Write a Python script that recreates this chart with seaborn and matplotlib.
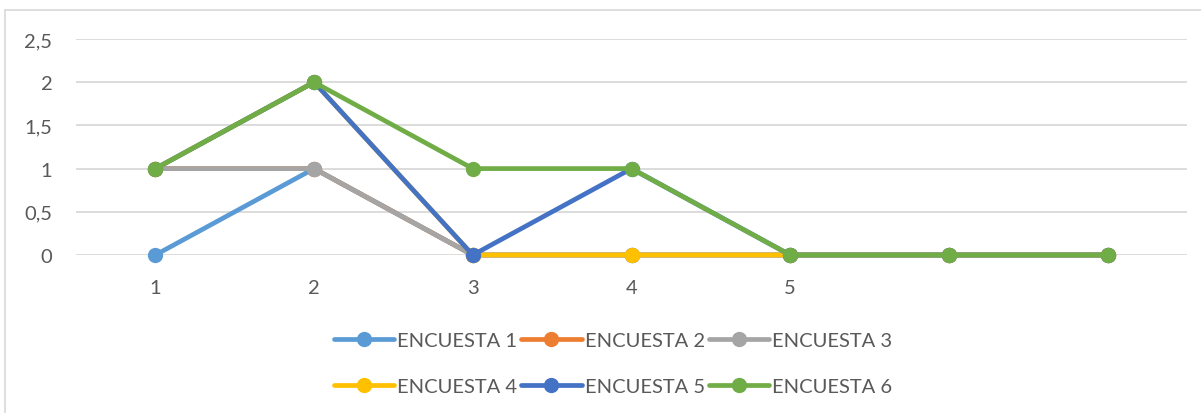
import matplotlib
matplotlib.use("Agg")
import matplotlib.pyplot as plt
from matplotlib.lines import Line2D
from matplotlib.ticker import FuncFormatter
import numpy as np
import pandas as pd
import seaborn as sns

# Categories on the horizontal axis (the last two have no label)
categories = [1, 2, 3, 4, 5, 6, 7]
tick_labels = ["1", "2", "3", "4", "5", "", ""]

encuesta_1 = [0, 1, 0, 0, 0, 0, 0]
encuesta_2 = [1, 1, 0, 0, 0, 0, 0]
encuesta_3 = [1, 1, 0, 0, 0, 0, 0]
encuesta_4 = [1, 2, 0, 0, 0, 0, 0]
encuesta_5 = [1, 2, 0, 1, 0, 0, 0]
encuesta_6 = [1, 2, 1, 1, 0, 0, 0]

series_names = ["ENCUESTA 1", "ENCUESTA 2", "ENCUESTA 3",
                "ENCUESTA 4", "ENCUESTA 5", "ENCUESTA 6"]
series_values = [encuesta_1, encuesta_2, encuesta_3,
                 encuesta_4, encuesta_5, encuesta_6]
palette = ["#5B9BD5", "#ED7D31", "#A5A5A5", "#FFC000", "#4472C4", "#70AD47"]

df = pd.DataFrame({
    "x": np.tile(categories, len(series_names)),
    "valor": np.concatenate(series_values),
    "serie": np.repeat(series_names, len(categories)),
})

sns.set_theme(style="white")
plt.rcParams["font.family"] = ["Lato", "DejaVu Sans"]
text_color = "#595959"
grid_color = "#D9D9D9"
font_size = 14.5
line_w = 3.4
marker_s = 11

W, H = 1201, 414
fig = plt.figure(figsize=(W / 100, H / 100), dpi=100)
ax = fig.add_axes([76 / W, 1 - 256 / H, (1187 - 76) / W, (256 - 40) / H])

sns.lineplot(data=df, x="x", y="valor", hue="serie", hue_order=series_names,
             palette=palette, marker="o", markersize=marker_s,
             markeredgewidth=0, linewidth=line_w, ax=ax, legend=True,
             zorder=3, clip_on=False)

ax.set_xlim(0.5, 7.5)
ax.set_ylim(0, 2.5)
ax.set_yticks([0, 0.5, 1, 1.5, 2, 2.5])
ax.yaxis.set_major_formatter(FuncFormatter(
    lambda v, _: (f"{v:g}").replace(".", ",")))
ax.set_xticks(categories)
ax.set_xticklabels(tick_labels)
ax.grid(axis="y", color=grid_color, linewidth=1.3, zorder=0)
ax.set_axisbelow(True)
for s in ax.spines.values():
    s.set_visible(False)
ax.tick_params(axis="both", length=0, labelsize=font_size, colors=text_color)
ax.tick_params(axis="x", pad=17)
ax.tick_params(axis="y", pad=17)
ax.set_xlabel("")
ax.set_ylabel("")

# Legend laid out row by row: 1 2 3 / 4 5 6
handles, labels = ax.get_legend_handles_labels()
ax.get_legend().remove()
order = [0, 3, 1, 4, 2, 5]
leg = fig.legend([handles[i] for i in order], [labels[i] for i in order],
                 loc="center", ncol=3,
                 bbox_to_anchor=(613 / W, 1 - 364.5 / H), frameon=False,
                 fontsize=font_size, labelcolor=text_color, handlelength=3.0,
                 handletextpad=0.15, columnspacing=0.2, labelspacing=1.4)
for h in leg.legend_handles:
    h.set_linewidth(line_w)
    h.set_markersize(marker_s)

# Chart area border (top and left edges)
fig.add_artist(Line2D([5 / W, 1], [1 - 11 / H, 1 - 11 / H],
                      color=grid_color, linewidth=1.2, transform=fig.transFigure))
fig.add_artist(Line2D([5 / W, 5 / W], [0, 1 - 11 / H],
                      color=grid_color, linewidth=1.2, transform=fig.transFigure))

fig.savefig("out.png", dpi=100, facecolor="white")
